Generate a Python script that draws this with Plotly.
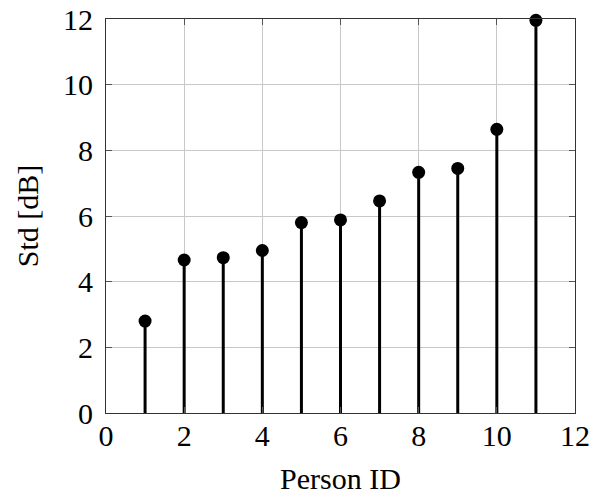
import plotly.graph_objects as go

person_id = [1, 2, 3, 4, 5, 6, 7, 8, 9, 10, 11]
std_db = [2.80, 4.66, 4.73, 4.95, 5.80, 5.88, 6.46, 7.33, 7.45, 8.64, 11.96]
zeros = [0] * len(std_db)

fig = go.Figure()
fig.add_trace(go.Scatter(
    x=person_id, y=std_db, mode="markers",
    marker=dict(color="black", size=13),
    error_y=dict(type="data", symmetric=False, array=zeros, arrayminus=std_db,
                 color="black", thickness=3, width=0),
    cliponaxis=False, showlegend=False,
))

font = dict(family="Liberation Serif, Times New Roman, serif", size=30, color="black")
axis_common = dict(
    showline=True, linecolor="#333", linewidth=1, mirror="ticks",
    ticks="inside", ticklen=6, tickcolor="#555", tickwidth=1,
    showgrid=True, gridcolor="#c8c8c8", gridwidth=1,
    zeroline=False, tickfont=font, dtick=2, automargin=False,
)
fig.update_layout(
    width=595, height=499,
    margin=dict(l=106, r=20, t=19, b=86),
    paper_bgcolor="white", plot_bgcolor="white",
    font=font,
    xaxis=dict(range=[0, 12], title=dict(text="Person ID", font=font, standoff=16),
               ticklabelstandoff=-4, **axis_common),
    yaxis=dict(range=[0, 12], title=dict(text="Std [dB]", font=font, standoff=15),
               ticklabelstandoff=6, **axis_common),
)
fig.write_html("out.html")
